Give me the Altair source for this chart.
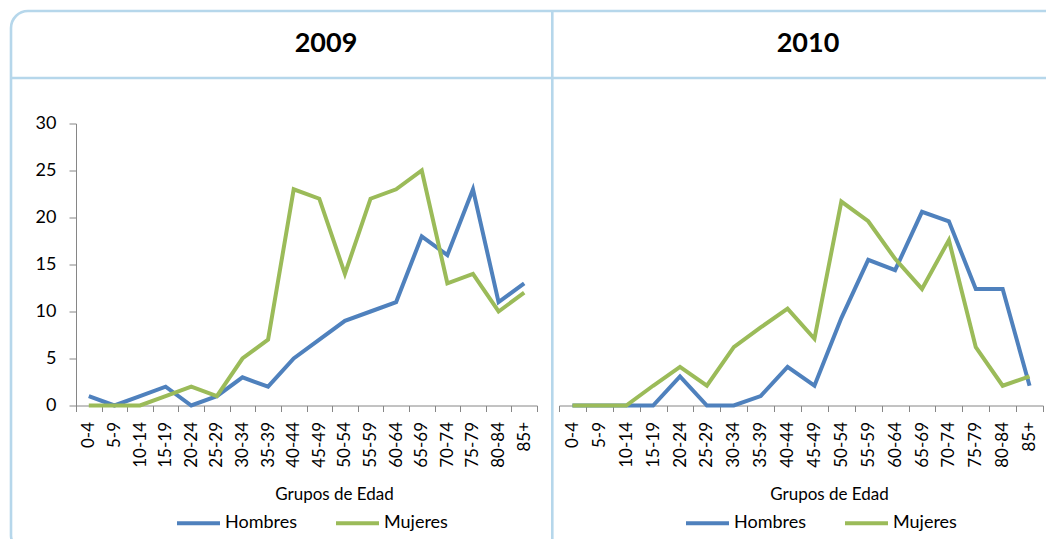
import altair as alt
import pandas as pd

# ---------------- data ----------------
ages = ["0-4", "5-9", "10-14", "15-19", "20-24", "25-29", "30-34", "35-39",
        "40-44", "45-49", "50-54", "55-59", "60-64", "65-69", "70-74",
        "75-79", "80-84", "85+"]
series = ["Hombres", "Mujeres"]
colors = ["#4F81BD", "#9BBB59"]

hombres_2009 = [1, 0, 1, 2, 0, 1, 3, 2, 5, 7, 9, 10, 11, 18, 16, 23, 11, 13]
mujeres_2009 = [0, 0, 0, 1, 2, 1, 5, 7, 23, 22, 14, 22, 23, 25, 13, 14, 10, 12]

hombres_2010 = [0, 0, 0, 0, 3.1, 0, 0, 1.0, 4.1, 2.1, 9.3, 15.5, 14.4, 20.6,
                19.6, 12.4, 12.4, 2.1]
mujeres_2010 = [0, 0, 0, 2.1, 4.1, 2.1, 6.2, 8.3, 10.3, 7.1, 21.7, 19.6, 15.6,
                12.4, 17.6, 6.2, 2.1, 3.1]

years = ["2009", "2010"]
y_ticks = [0, 5, 10, 15, 20, 25, 30]
x_title = "Grupos de Edad"

FONT = "Lato"
FRAME = "#B6D7EB"
AXIS_GRAY = "#868686"


def long_df(h, m):
    rows = []
    for a, v in zip(ages, h):
        rows.append({"Edad": a, "Sexo": series[0], "Valor": v})
    for a, v in zip(ages, m):
        rows.append({"Edad": a, "Sexo": series[1], "Valor": v})
    return pd.DataFrame(rows)


one = pd.DataFrame({"k": [0]})


def panel(df, year, show_y, title_x, legend_x, year_x):
    x_enc = alt.X(
        "Edad:N", sort=ages,
        scale=alt.Scale(type="band", paddingInner=0, paddingOuter=0),
        axis=alt.Axis(
            title=x_title, labelAngle=270, tickBand="extent",
            domainColor=AXIS_GRAY, tickColor=AXIS_GRAY, tickSize=6,
            labelPadding=10, labelFontSize=17, labelFont=FONT,
            labelColor="black", labelOverlap=False, labelFlush=False,
            titleFont=FONT, titleFontSize=17, titleFontWeight="normal",
            titleColor="black", titleX=title_x, titleY=94,
            titleBaseline="alphabetic", titleAnchor="start", titleAlign="center",
            grid=False,
        ),
    )
    if show_y:
        y_axis = alt.Axis(
            title=None, values=y_ticks, grid=False,
            domainColor=AXIS_GRAY, tickColor=AXIS_GRAY, tickSize=7,
            labelPadding=13, labelFontSize=18, labelFont=FONT,
            labelColor="black",
        )
    else:
        y_axis = None
    y_enc = alt.Y("Valor:Q", scale=alt.Scale(domain=[0, 30], nice=False),
                  axis=y_axis)

    lines = alt.Chart(df).mark_line(strokeWidth=4).encode(
        x=x_enc,
        y=y_enc,
        color=alt.Color(
            "Sexo:N",
            scale=alt.Scale(domain=series, range=colors),
            legend=alt.Legend(
                title=None, orient="none", legendX=legend_x, legendY=376,
                direction="horizontal", symbolType="stroke",
                symbolSize=1849, symbolStrokeWidth=4, labelFont=FONT,
                labelFontSize=18, labelColor="black", labelOffset=3,
                columnPadding=30, padding=0,
            ),
        ),
    )

    year_text = alt.Chart(one).mark_text(
        font=FONT, fontSize=27, fontWeight="bold", color="black",
        align="center", baseline="alphabetic",
    ).encode(x=alt.value(year_x), y=alt.value(-72), text=alt.value(year))

    return lines, year_text


df09 = long_df(hombres_2009, mujeres_2009)
df10 = long_df(hombres_2010, mujeres_2010)

l09, t09 = panel(df09, years[0], True, 258, 99, 250)
l10, t10 = panel(df10, years[1], False, 270, 125, 249)

# decorative frame (drawn in left panel coordinates, plot origin at page (75,123))
frame = alt.Chart(one).mark_rect(
    filled=False, stroke=FRAME, strokeWidth=2.6,
    cornerRadiusTopLeft=17, cornerRadiusBottomLeft=12,
    cornerRadiusTopRight=17, cornerRadiusBottomRight=12,
).encode(x=alt.value(-65), x2=alt.value(990), y=alt.value(-112.5),
         y2=alt.value(424))
header_line = alt.Chart(one).mark_rule(stroke=FRAME, strokeWidth=2.6).encode(
    x=alt.value(-65), x2=alt.value(990), y=alt.value(-45.5))
divider = alt.Chart(one).mark_rule(stroke=FRAME, strokeWidth=2.6).encode(
    x=alt.value(476.3), y=alt.value(-112.5), y2=alt.value(424))

left = alt.layer(frame, header_line, divider, l09, t09).properties(
    width=461, height=282)
right = alt.layer(l10, t10).properties(width=484, height=282)

chart = alt.hconcat(left, right, spacing=22, bounds="flush").resolve_scale(
    color="independent", y="independent"
).resolve_legend(color="independent").properties(
    padding={"left": 1, "top": 1.5, "right": -22, "bottom": -11},
    background="white",
).configure_view(stroke=None)

chart.save("out.html", embed_options={"renderer": "svg", "actions": False})
